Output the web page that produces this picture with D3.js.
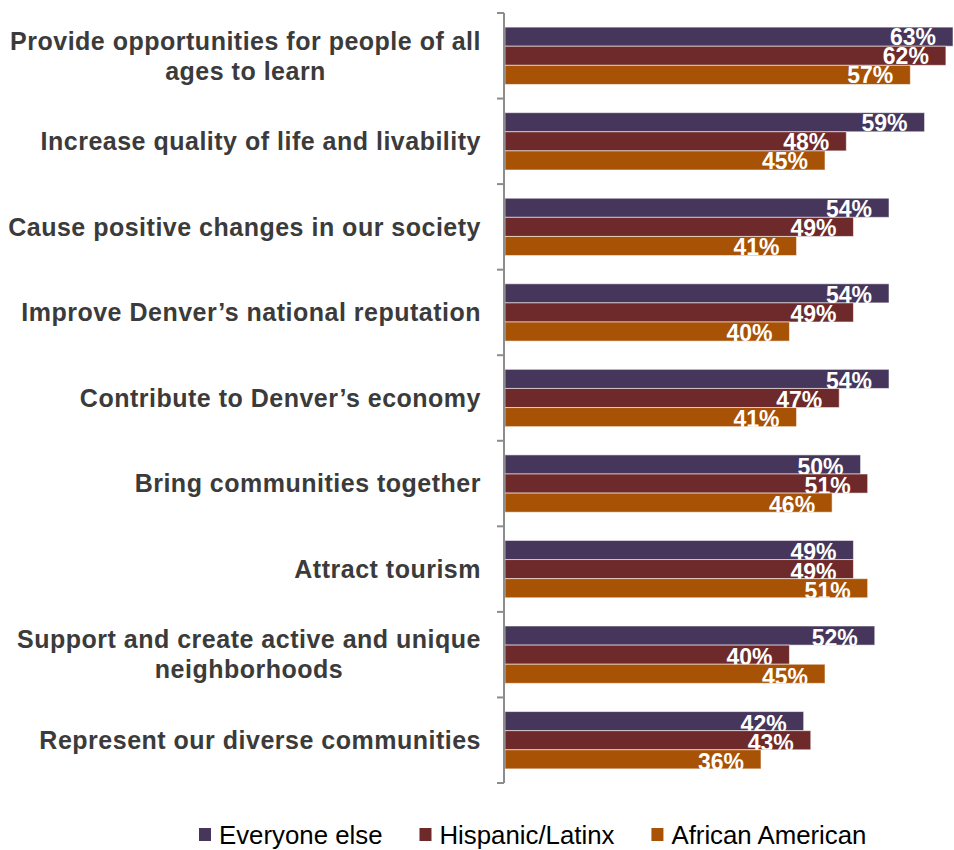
<!DOCTYPE html>
<html>
<head>
<meta charset="utf-8">
<script src="https://cdn.jsdelivr.net/npm/d3@7"></script>
<style>
  html, body { margin: 0; padding: 0; background: #fff; }
  svg { display: block; }
</style>
</head>
<body>
<svg id="chart" width="954" height="850"></svg>
<script>
// ---- data ----
const categories = [
  ["Provide opportunities for people of all", "ages to learn"],
  ["Increase quality of life and livability"],
  ["Cause positive changes in our society"],
  ["Improve Denver\u2019s national reputation"],
  ["Contribute to Denver\u2019s economy"],
  ["Bring communities together"],
  ["Attract tourism"],
  ["Support and create active and unique", "neighborhoods"],
  ["Represent our diverse communities"]
];
const seriesNames = ["Everyone else", "Hispanic/Latinx", "African American"];
const everyoneElse    = [63, 59, 54, 54, 54, 50, 49, 52, 42];
const hispanicLatinx  = [62, 48, 49, 49, 47, 51, 49, 40, 43];
const africanAmerican = [57, 45, 41, 40, 41, 46, 51, 45, 36];
const seriesValues = [everyoneElse, hispanicLatinx, africanAmerican];
const seriesColors = ["#46365b", "#6e2a2a", "#a85206"];

// ---- layout ----
const svg = d3.select("#chart");
const x0 = 505;
const x = d3.scaleLinear().domain([0, 63]).range([x0, 953]);
const catIdx = categories.map((d, i) => i);
const y = d3.scaleBand().domain(catIdx).range([13, 783]).paddingInner(0.33).paddingOuter(0.165);
const ySub = d3.scaleBand().domain(d3.range(seriesNames.length)).range([0, y.bandwidth()]);
const step = y.step();
const labelFont = "'Liberation Sans', Arial, Helvetica, sans-serif";

// bars
const defs = svg.append("defs");
const rows = [];
catIdx.forEach(ci => {
  seriesValues.forEach((vals, si) => {
    rows.push({ ci, si, v: vals[ci] });
  });
});

const barG = svg.append("g");
barG.selectAll("rect").data(rows).join("rect")
  .attr("x", x0)
  .attr("y", d => y(d.ci) + ySub(d.si))
  .attr("width", d => x(d.v) - x0)
  .attr("height", ySub.bandwidth())
  .attr("fill", d => seriesColors[d.si])
  .attr("stroke", "rgba(255,255,255,0.55)")
  .attr("stroke-width", 1);

// clip paths for value labels (labels sit at bar bottom, clipped by bar)
rows.forEach((d, i) => {
  defs.append("clipPath").attr("id", "clip" + i)
    .append("rect")
    .attr("x", 0)
    .attr("y", y(d.ci) + ySub(d.si) - 6)
    .attr("width", 954)
    .attr("height", ySub.bandwidth() + 6);
});

barG.selectAll("text").data(rows).join("text")
  .attr("clip-path", (d, i) => "url(#clip" + i + ")")
  .attr("x", d => x(d.v) - 17)
  .attr("y", d => y(d.ci) + ySub(d.si) + ySub.bandwidth() - 1.2 + d.ci * 0.35)
  .attr("text-anchor", "end")
  .attr("fill", "#ffffff")
  .attr("font-family", labelFont)
  .attr("font-weight", "bold")
  .attr("font-size", "23px")
  .text(d => d.v + "%");

// axis line + ticks at band boundaries
const axisG = svg.append("g").attr("stroke", "#8c8c8c").attr("stroke-width", 2);
const yTop = y.range()[0], yBot = y.range()[1];
axisG.append("line").attr("x1", 504).attr("x2", 504).attr("y1", yTop).attr("y2", yBot);
axisG.selectAll("line.tick").data(d3.range(categories.length + 1)).join("line")
  .attr("class", "tick")
  .attr("x1", 497).attr("x2", 504)
  .attr("y1", i => yTop + i * step)
  .attr("y2", i => yTop + i * step);

// category labels
const catG = svg.append("g")
  .attr("font-family", labelFont)
  .attr("font-weight", "bold")
  .attr("font-size", "25px")
  .attr("letter-spacing", "0.5px")
  .attr("fill", "#3b3b3b");
const rightEdge = 481;
categories.forEach((lines, ci) => {
  const cy = y(ci) + y.bandwidth() / 2;
  if (lines.length === 1) {
    catG.append("text")
      .attr("x", rightEdge).attr("y", cy).attr("dy", "0.35em")
      .attr("text-anchor", "end").text(lines[0]);
  } else {
    const lh = 30;
    const first = catG.append("text")
      .attr("x", rightEdge).attr("y", cy - lh / 2).attr("dy", "0.35em")
      .attr("text-anchor", "end").text(lines[0]);
    const w = first.node().getComputedTextLength();
    const center = rightEdge - w / 2;
    lines.slice(1).forEach((ln, k) => {
      catG.append("text")
        .attr("x", center).attr("y", cy - lh / 2 + lh * (k + 1)).attr("dy", "0.35em")
        .attr("text-anchor", "middle").text(ln);
    });
  }
});

// legend
const legG = svg.append("g")
  .attr("font-family", labelFont)
  .attr("font-size", "25.8px")
  .attr("fill", "#000");
let lx = 199;
const ly = 844;
seriesNames.forEach((name, si) => {
  legG.append("rect")
    .attr("x", lx).attr("y", 828).attr("width", 12).attr("height", 13)
    .attr("fill", seriesColors[si]);
  const t = legG.append("text").attr("x", lx + 20).attr("y", ly).text(name);
  lx = lx + 20 + t.node().getComputedTextLength() + 37;
});
</script>
</body>
</html>
